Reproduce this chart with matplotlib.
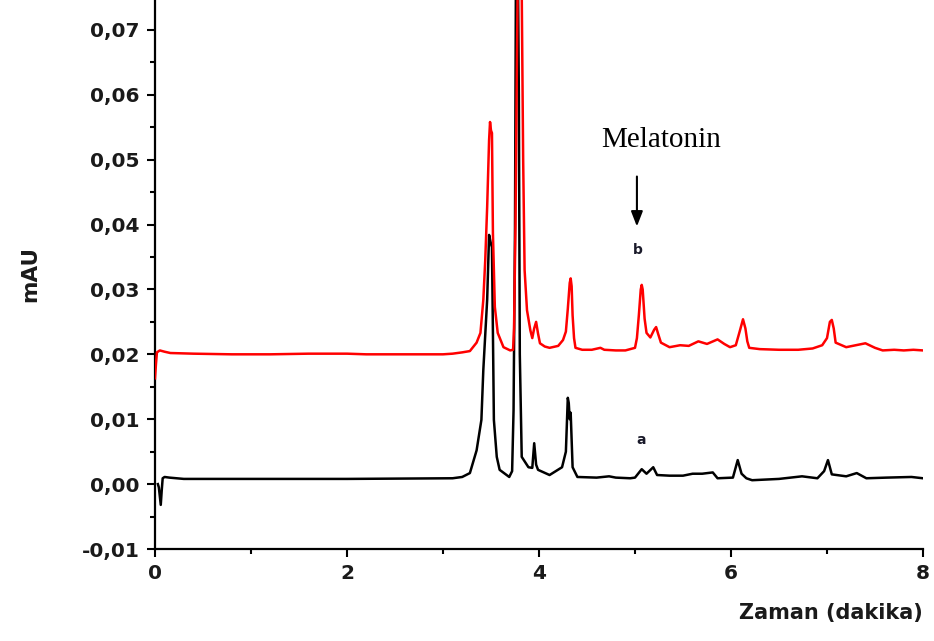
import matplotlib
matplotlib.use("Agg")
import matplotlib.pyplot as plt
from matplotlib.ticker import MultipleLocator, FuncFormatter

# Trace b (red) : time (min), absorbance (mAU)
t_b = [0.00, 0.01, 0.02, 0.05, 0.10, 0.16, 0.40, 0.80, 1.20, 1.60, 2.00, 2.20, 2.60,
       3.00, 3.10, 3.20, 3.28, 3.35, 3.39, 3.42, 3.44, 3.46, 3.48, 3.49, 3.50, 3.51,
       3.52, 3.54, 3.57, 3.63, 3.70, 3.73, 3.74, 3.755, 3.77, 3.78, 3.80, 3.82, 3.835,
       3.85, 3.875, 3.91, 3.93, 3.95, 3.97, 3.99, 4.01, 4.06, 4.11, 4.20, 4.25, 4.28,
       4.30, 4.32, 4.33, 4.34, 4.35, 4.365, 4.38, 4.45, 4.55, 4.64, 4.68, 4.80, 4.90,
       5.00, 5.02, 5.04, 5.06, 5.07, 5.08, 5.10, 5.12, 5.16, 5.20, 5.22, 5.24, 5.27,
       5.36, 5.47, 5.56, 5.66, 5.75, 5.86, 5.93, 5.99, 6.05, 6.09, 6.125, 6.15, 6.17,
       6.19, 6.30, 6.50, 6.70, 6.85, 6.95, 7.00, 7.03, 7.05, 7.07, 7.09, 7.20, 7.30,
       7.40, 7.50, 7.58, 7.70, 7.80, 7.90, 8.00]
y_b = [0.0163, 0.0185, 0.0203, 0.0206, 0.0204, 0.0202, 0.0201, 0.0200, 0.0200, 0.0201,
       0.0201, 0.0200, 0.0200, 0.0200, 0.0201, 0.0203, 0.0205, 0.0218, 0.0233, 0.0284,
       0.0345, 0.0427, 0.0530, 0.0558, 0.0545, 0.0541, 0.0387, 0.0273, 0.0233, 0.0211,
       0.0206, 0.0207, 0.0240, 0.0400, 0.0650, 0.0800, 0.0800, 0.0760, 0.0500, 0.0330,
       0.0268, 0.0237, 0.0225, 0.0240, 0.0250, 0.0232, 0.0217, 0.0212, 0.0210, 0.0213,
       0.0222, 0.0235, 0.0270, 0.0310, 0.0317, 0.0305, 0.0260, 0.0225, 0.0210, 0.0207,
       0.0207, 0.0210, 0.0207, 0.0206, 0.0206, 0.0210, 0.0225, 0.0260, 0.0300, 0.0307,
       0.0300, 0.0255, 0.0233, 0.0226, 0.0238, 0.0242, 0.0232, 0.0218, 0.0211, 0.0214,
       0.0213, 0.0220, 0.0216, 0.0223, 0.0216, 0.0211, 0.0214, 0.0235, 0.0254, 0.0240,
       0.0220, 0.0210, 0.0208, 0.0207, 0.0207, 0.0209, 0.0214, 0.0225, 0.0250, 0.0253,
       0.0240, 0.0218, 0.0211, 0.0214, 0.0217, 0.0210, 0.0206, 0.0207, 0.0206, 0.0207,
       0.0206]

# Trace a (black)
t_a = [0.03, 0.04, 0.06, 0.07, 0.08, 0.10, 0.15, 0.30, 1.00, 2.00, 3.10, 3.20, 3.28,
       3.35, 3.40, 3.42, 3.46, 3.48, 3.50, 3.51, 3.52, 3.53, 3.56, 3.59, 3.69, 3.72,
       3.735, 3.75, 3.76, 3.78, 3.79, 3.80, 3.82, 3.89, 3.93, 3.95, 3.97, 3.99, 4.11,
       4.24, 4.28, 4.30, 4.31, 4.32, 4.33, 4.35, 4.40, 4.60, 4.73, 4.80, 4.95, 5.00,
       5.07, 5.12, 5.19, 5.23, 5.36, 5.50, 5.60, 5.70, 5.81, 5.86, 6.02, 6.07, 6.11,
       6.16, 6.22, 6.50, 6.74, 6.90, 6.97, 7.01, 7.05, 7.20, 7.31, 7.41, 7.62, 7.88,
       8.00]
y_a = [0.0000, -0.0005, -0.0032, -0.0010, 0.0009, 0.0011, 0.0010, 0.0008, 0.0008,
       0.0008, 0.0009, 0.0011, 0.0017, 0.0052, 0.0099, 0.0176, 0.0284, 0.0384, 0.0370,
       0.0365, 0.0233, 0.0099, 0.0042, 0.0022, 0.0011, 0.0020, 0.0114, 0.0396, 0.0800,
       0.0800, 0.0600, 0.0200, 0.0042, 0.0026, 0.0025, 0.0063, 0.0030, 0.0022, 0.0014,
       0.0026, 0.0050, 0.0133, 0.0125, 0.0100, 0.0110, 0.0026, 0.0011, 0.0010, 0.0012,
       0.0010, 0.0009, 0.0010, 0.0023, 0.0016, 0.0026, 0.0014, 0.0013, 0.0013, 0.0016,
       0.0016, 0.0018, 0.0009, 0.0010, 0.0037, 0.0016, 0.0009, 0.0006, 0.0008, 0.0012,
       0.0009, 0.0020, 0.0037, 0.0015, 0.0012, 0.0017, 0.0009, 0.0010, 0.0011, 0.0009]

x_ticks = [0, 2, 4, 6, 8]
y_ticks = [-0.01, 0.00, 0.01, 0.02, 0.03, 0.04, 0.05, 0.06, 0.07]

fig = plt.figure(figsize=(9.34, 6.41), dpi=100)
ax = fig.add_axes([155 / 934, 92 / 641, 768 / 934, 549 / 641])

ax.plot(t_a, y_a, color="black", lw=1.8, zorder=3)
ax.plot(t_b, y_b, color="#ff0000", lw=1.8, zorder=4)

ax.set_xlim(0, 8)
ax.set_ylim(-0.01, 0.0746)

for s in ["top", "right"]:
    ax.spines[s].set_visible(False)
for s in ["left", "bottom"]:
    ax.spines[s].set_linewidth(1.6)

ax.set_xticks(x_ticks)
ax.set_yticks(y_ticks)
ax.xaxis.set_minor_locator(MultipleLocator(1))
ax.yaxis.set_minor_locator(MultipleLocator(0.005))
ax.yaxis.set_major_formatter(FuncFormatter(lambda v, p: f"{v:.2f}".replace(".", ",").replace("-0,00", "0,00")))
ax.tick_params(which="major", direction="out", length=6, width=1.5, pad=5)
ax.tick_params(which="minor", direction="out", length=3.5, width=1.5)
for lab in ax.get_xticklabels() + ax.get_yticklabels():
    lab.set_fontfamily("DejaVu Sans")
    lab.set_fontweight("bold")
    lab.set_fontsize(14.5)
    lab.set_color("#1a1a1a")

ax.set_xlabel("Zaman (dakika)", fontsize=15, fontweight="bold", family="DejaVu Sans",
              loc="right", labelpad=14, color="#1a1a1a")
ax.set_ylabel("mAU", fontsize=15.5, fontweight="bold", family="DejaVu Sans",
              labelpad=30, color="#1a1a1a")

ax.text(5.27, 0.0520, "Melatonin", family="Liberation Serif", fontsize=21,
        ha="center", va="baseline", color="black")
ax.annotate("", xy=(5.02, 0.0397), xytext=(5.02, 0.0474),
            arrowprops=dict(arrowstyle="-|>,head_length=0.9,head_width=0.35",
                            color="black", lw=1.5, shrinkA=0, shrinkB=0))
ax.text(5.03, 0.0360, "b", fontsize=10, fontweight="bold", family="DejaVu Sans",
        ha="center", va="center", color="#1a1a2a")
ax.text(5.06, 0.0068, "a", fontsize=10, fontweight="bold", family="DejaVu Sans",
        ha="center", va="center", color="#1a1a2a")

fig.savefig("out.png", dpi=100)
